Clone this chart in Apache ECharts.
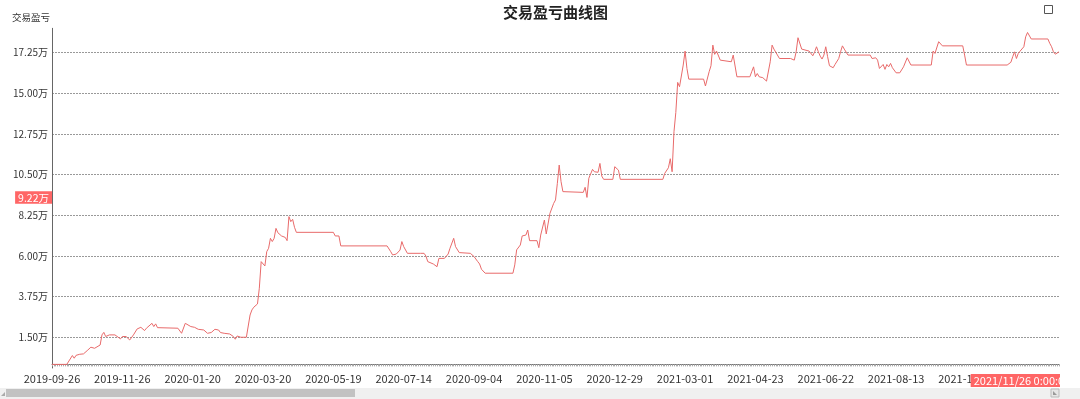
<!DOCTYPE html>
<html><head><meta charset="utf-8">
<script src="https://cdn.jsdelivr.net/npm/echarts@6/dist/echarts.min.js"></script>
<style>html,body{margin:0;padding:0;background:#fff;overflow:hidden}#c{width:1080px;height:399px}</style>
</head><body><div id="c"></div>
<script>
// ---- data ----
const firstDay = '2019-09-26';
const lastDay = '2021-12-24';
const holidays = ['2019-10-01','2019-10-02','2019-10-03','2019-10-04','2019-10-07',
  '2020-01-01','2020-01-24','2020-01-27','2020-01-28','2020-01-29','2020-01-30','2020-01-31',
  '2020-04-06','2020-05-01','2020-05-04','2020-05-05','2020-06-25','2020-06-26',
  '2020-10-01','2020-10-02','2020-10-05','2020-10-06','2020-10-07','2020-10-08',
  '2021-01-01','2021-02-11','2021-02-12','2021-02-15','2021-02-16','2021-02-17',
  '2021-04-05','2021-05-03','2021-05-04','2021-05-05','2021-06-14','2021-09-20','2021-09-21',
  '2021-10-01','2021-10-04','2021-10-05','2021-10-06','2021-10-07'];
const yTicks = [1.5, 3.75, 6, 8.25, 10.5, 12.75, 15, 17.25];
// [trading-day index, profit (万)]
const keyPoints = [[0,0],[8,0],[11,0.49],[12,0.34],[13,0.50],[15,0.56],[16,0.45],[17,0.58],[19,0.76],[21,0.95],[22,1.06],[23,0.89],[24,0.83],[26,1.07],[27,1.63],[28,1.77],[29,1.54],[31,1.63],[32,1.54],[34,1.63],[35,1.54],[37,1.41],[38,1.54],[40,1.54],[41,1.50],[42,1.35],[44,1.63],[45,1.63],[46,1.96],[47,2.00],[48,2.05],[50,1.87],[51,2.00],[52,2.01],[54,2.27],[55,2.09],[56,2.24],[57,2.03],[58,2.00],[68,2.00],[70,1.72],[72,2.27],[73,2.24],[75,2.09],[76,2.16],[77,2.05],[79,1.94],[82,1.90],[84,1.72],[86,1.76],[88,1.94],[90,1.90],[91,1.76],[93,1.72],[94,1.78],[96,1.68],[98,1.54],[99,1.39],[100,1.57],[101,1.54],[102,1.50],[105,1.50],[107,2.73],[108,3.01],[109,3.16],[111,3.34],[112,4.21],[113,5.68],[115,5.44],[116,6.23],[117,6.42],[118,6.97],[119,6.79],[120,6.97],[121,7.52],[122,7.28],[124,7.10],[125,7.06],[126,7.02],[127,6.84],[128,8.17],[129,7.89],[130,8.02],[131,7.58],[132,7.30],[152,7.30],[153,7.10],[154,7.21],[155,7.10],[156,6.55],[181,6.55],[183,6.23],[184,6.05],[186,6.10],[187,6.14],[188,6.32],[189,6.79],[190,6.51],[191,6.42],[192,6.14],[199,6.14],[200,6.05],[201,6.14],[202,5.99],[203,5.68],[206,5.55],[208,5.40],[209,5.86],[210,5.81],[212,5.86],[214,6.10],[215,6.42],[217,6.97],[218,6.51],[220,6.18],[221,6.14],[226,6.14],[228,5.96],[230,5.68],[231,5.55],[232,5.26],[234,5.04],[249,5.04],[250,5.50],[251,6.33],[252,6.36],[253,6.60],[254,7.10],[256,7.15],[257,7.43],[258,6.84],[262,6.84],[263,6.45],[264,7.15],[265,7.15],[266,7.98],[267,7.21],[269,8.35],[270,8.44],[271,8.90],[272,9.09],[273,10.01],[274,11.02],[275,10.10],[276,9.55],[277,9.51],[287,9.51],[288,9.79],[289,9.23],[290,10.29],[292,10.78],[293,10.65],[294,10.60],[295,10.62],[296,11.11],[297,10.41],[298,10.23],[303,10.23],[304,10.93],[305,10.97],[306,10.74],[307,10.23],[330,10.23],[331,10.56],[333,10.87],[334,11.37],[335,10.65],[336,12.86],[337,13.93],[338,15.59],[339,15.35],[340,15.44],[341,16.55],[342,17.32],[343,16.36],[344,15.77],[352,15.77],[353,15.39],[355,16.18],[356,16.51],[357,17.65],[358,17.14],[359,17.32],[361,16.82],[362,16.73],[367,16.73],[368,17.10],[370,15.90],[377,15.90],[378,16.18],[379,16.45],[380,15.90],[381,16.08],[382,15.90],[384,15.85],[385,15.90],[386,15.66],[388,16.73],[389,17.65],[390,17.43],[391,17.50],[393,16.91],[399,16.91],[400,17.01],[401,16.82],[402,17.28],[403,18.06],[404,18.02],[405,17.43],[406,17.32],[409,17.32],[411,17.06],[412,17.28],[413,17.56],[414,17.28],[415,17.04],[416,16.88],[417,17.10],[418,17.56],[419,17.01],[420,16.51],[421,16.45],[422,16.40],[423,16.58],[424,16.55],[425,16.91],[426,17.28],[427,17.61],[428,17.43],[430,17.10],[442,17.10],[443,16.91],[445,16.95],[446,16.82],[447,16.36],[448,16.33],[449,16.58],[450,16.31],[451,16.58],[452,16.45],[453,16.64],[454,16.40],[456,16.12],[458,16.12],[459,16.21],[460,16.45],[461,16.51],[462,16.95],[464,16.55],[475,16.55],[476,17.32],[477,17.19],[479,17.84],[480,17.93],[481,17.61],[492,17.61],[493,17.10],[494,16.55],[516,16.55],[518,16.70],[519,17.01],[520,17.28],[521,16.91],[522,17.19],[523,17.32],[524,17.28],[525,17.56],[526,18.11],[527,18.35],[528,18.45],[529,17.99],[538,17.99],[539,17.75],[540,17.56],[541,17.28],[542,17.15],[543,17.19],[544,17.28]];
const pointerDate = '2021-11-26';
const pointerValue = 9.22;

// ---- trading calendar (weekdays minus exchange holidays) ----
function buildDates() {
  const out = [];
  const hs = new Set(holidays);
  const end = new Date(lastDay + 'T00:00:00Z');
  for (let d = new Date(firstDay + 'T00:00:00Z'); d <= end; d.setUTCDate(d.getUTCDate() + 1)) {
    const wd = d.getUTCDay();
    const s = d.toISOString().slice(0, 10);
    if (wd !== 0 && wd !== 6 && !hs.has(s)) out.push(s);
  }
  return out;
}
const dates = buildDates();
const seriesData = keyPoints.map(p => [dates[p[0]], p[1]]);

const FONT = "'Noto Sans CJK SC', 'Noto Sans', sans-serif";
const RED = '#ff6666';
const chart = echarts.init(document.getElementById('c'), null, {renderer: 'canvas'});
chart.setOption({
  animation: false,
  textStyle: {fontFamily: FONT},
  title: {
    text: '交易盈亏曲线图', left: 503, top: 5, padding: 0,
    textStyle: {fontSize: 15, fontWeight: 'bold', color: '#222', fontFamily: FONT}
  },
  toolbox: {
    right: 25, top: 3, padding: 0, itemSize: 8,
    iconStyle: {borderColor: '#555', borderWidth: 1, color: 'none'},
    feature: {myFull: {show: true, title: '', icon: 'path://M0,0L10,0L10,10L0,10Z', onclick: function(){}}}
  },
  grid: {left: 52, right: 21, top: 28.3, bottom: 31, containLabel: false},
  xAxis: {
    type: 'category', data: dates, boundaryGap: false,
    axisLine: {lineStyle: {color: '#777', width: 1}},
    axisTick: {show: true, interval: 0, length: 2, lineStyle: {color: '#aaa'}},
    axisLabel: {interval: 37, fontSize: 11, color: '#333', margin: 5, fontFamily: FONT},
    splitLine: {show: false},
    axisPointer: {
      show: true, status: 'show', value: pointerDate, type: 'line', triggerTooltip: false,
      lineStyle: {opacity: 0},
      label: {show: true, backgroundColor: RED, color: '#fff', fontSize: 11, padding: [1, 3], margin: 6,
        borderRadius: 0, fontFamily: FONT,
        formatter: p => String(p.value).replace(/-/g, '/').replace(/\/0?(\d)\//, '/$1/') + ' 0:00:00'}
    }
  },
  yAxis: {
    type: 'value', min: -0.2, max: 18.58,
    name: '交易盈亏', nameLocation: 'end', nameGap: 6,
    nameTextStyle: {fontSize: 9.5, color: '#333', align: 'right', fontFamily: FONT, padding: [0, 2, 0, 0]},
    axisLine: {show: true, lineStyle: {color: '#666', width: 1}},
    axisTick: {show: false, customValues: yTicks},
    axisLabel: {customValues: yTicks, fontSize: 10, color: '#333', margin: 4, fontFamily: FONT,
      formatter: v => v.toFixed(2) + '万'},
    splitLine: {show: true, lineStyle: {color: '#999', type: [2, 1], width: 1}},
    axisPointer: {
      show: true, status: 'show', value: pointerValue, type: 'line', triggerTooltip: false,
      lineStyle: {opacity: 0},
      label: {show: true, backgroundColor: RED, color: '#fff', fontSize: 10.5, padding: [1, 3], margin: 0,
        borderRadius: 0, fontFamily: FONT, formatter: p => Number(p.value).toFixed(2) + '万'}
    }
  },
  series: [{
    type: 'line', data: seriesData, showSymbol: false, symbol: 'none',
    lineStyle: {color: '#e86a6a', width: 1}, itemStyle: {color: '#e86a6a'}
  }],
  graphic: [
    {type: 'rect', z: 1000, shape: {x: 1060, y: 0, width: 20, height: 388}, style: {fill: '#fff'}},
    {type: 'rect', z: 1000, shape: {x: 0, y: 388, width: 1080, height: 11}, style: {fill: '#f0f0f0'}},
    {type: 'rect', z: 1001, shape: {x: 6, y: 389, width: 349, height: 8}, style: {fill: '#c2c2c2'}},
    {type: 'polygon', z: 1001, shape: {points: [[1, 396], [5, 392], [5, 396]]}, style: {fill: '#aaa'}},
    {type: 'rect', z: 1001, shape: {x: 1051, y: 389, width: 8, height: 8}, style: {fill: '#e6e6e6', stroke: '#bbb', lineWidth: 1}},
    {type: 'polygon', z: 1002, shape: {points: [[1053, 391], [1057, 395], [1053, 395]]}, style: {fill: '#999'}}
  ]
});
</script></body></html>
